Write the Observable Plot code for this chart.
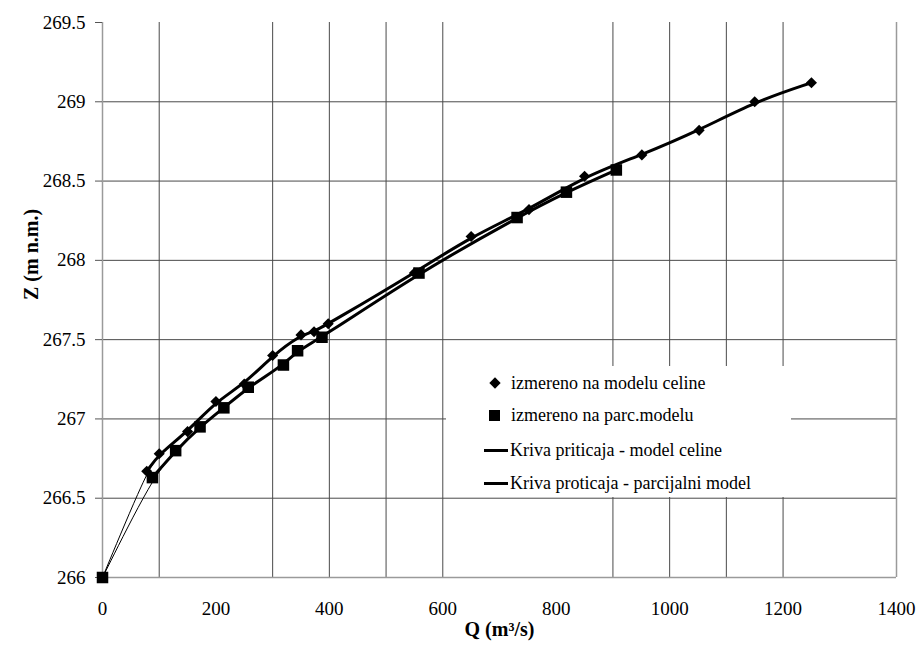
<!DOCTYPE html>
<html><head><meta charset="utf-8">
<script src="https://cdn.jsdelivr.net/npm/d3@7"></script>
<script src="https://cdn.jsdelivr.net/npm/@observablehq/plot@0.6"></script>
<style>
body{margin:0;background:#fff;}
#wrap{position:relative;width:919px;height:653px;font-family:"Liberation Serif","Times New Roman",Times,"DejaVu Serif",serif;}
#wrap svg, #wrap svg text{font-family:"Liberation Serif","Times New Roman",Times,"DejaVu Serif",serif;}
#legend{position:absolute;left:446px;top:366px;width:345px;height:131px;background:#fff;font-size:18px;color:#000;}
.row{position:absolute;left:0;height:24px;display:flex;align-items:center;white-space:nowrap;}
.sym{display:inline-block;background:#000;}
</style></head><body><div id="wrap"></div>
<script>
// measured on the whole-river model (diamonds)
const celineQ = [0, 78, 100, 150, 200, 250, 300, 350, 373, 398, 550, 650, 752, 850, 951, 1052, 1150, 1250];
const celineZ = [266, 266.67, 266.78, 266.92, 267.11, 267.22, 267.40, 267.53, 267.55, 267.60, 267.92, 268.15, 268.32, 268.53, 268.665, 268.82, 269.0, 269.12];
// measured on the partial model (squares)
const parcQ = [0, 88, 129, 172, 214, 257, 319, 344, 387, 558, 731, 818, 906];
const parcZ = [266, 266.63, 266.80, 266.95, 267.07, 267.20, 267.34, 267.43, 267.515, 267.92, 268.27, 268.43, 268.57];
const xTicks = [0, 200, 400, 600, 800, 1000, 1200, 1400];
const yTicks = [266, 266.5, 267, 267.5, 268, 268.5, 269, 269.5];
const gridX = [100, 300, 400, 500, 600, 900, 1000, 1100, 1200];
const gridY = [266.5, 267, 267.5, 268, 268.5, 269];
const legendLabels = ["izmereno na modelu celine", "izmereno na parc.modelu", "Kriva priticaja - model celine", "Kriva proticaja - parcijalni model"];

const celine = celineQ.map((q, i) => ({q, z: celineZ[i]}));
const parc = parcQ.map((q, i) => ({q, z: parcZ[i]}));
const font = "'Liberation Serif', 'Times New Roman', Times, 'DejaVu Serif', serif";
const fmt = d => String(d);

const chart = Plot.plot({
  width: 919, height: 653,
  marginLeft: 102, marginRight: 23, marginTop: 22, marginBottom: 76,
  style: {fontFamily: font, fontSize: "19px", color: "#000", background: "#fff"},
  x: {domain: [0, 1400], label: null},
  y: {domain: [266, 269.5], label: null},
  marks: [
    Plot.ruleX(gridX, {stroke: "#4a4a4a", strokeWidth: 1}),
    Plot.ruleY(gridY, {stroke: "#4a4a4a", strokeWidth: 1}),
    Plot.ruleY([266], {stroke: "#9a9a9a", strokeWidth: 1.5}),
    Plot.ruleX([0, 1400], {stroke: "#9a9a9a", strokeWidth: 1.5}),
    Plot.axisY({ticks: yTicks, tickFormat: fmt, tickSize: 7, tickPadding: 10, stroke: "#555", label: null, fontSize: 19}),
    Plot.axisX({ticks: xTicks, tickFormat: fmt, tickSize: 0, tickPadding: 24, label: null, fontSize: 19}),
    Plot.line(celine, {x: "q", y: "z", curve: "basis", stroke: "#000", strokeWidth: 1}),
    Plot.line(parc, {x: "q", y: "z", curve: "basis", stroke: "#000", strokeWidth: 1}),
    Plot.line(celine.slice(1), {x: "q", y: "z", curve: "basis", stroke: "#000", strokeWidth: 3}),
    Plot.line(parc.slice(1), {x: "q", y: "z", curve: "basis", stroke: "#000", strokeWidth: 3}),
    Plot.dot(parc, {x: "q", y: "z", symbol: "square", r: 6.5, fill: "#000", stroke: "none"}),
    Plot.dot(celine.slice(1), {x: "q", y: "z", symbol: "diamond2", r: 5, fill: "#000", stroke: "none"}),
    Plot.text(["Z (m n.m.)"], {frameAnchor: "left", dx: -71, rotate: -90, fontWeight: "bold", fontSize: 20, fill: "#000"}),
    Plot.text(["Q (m³/s)"], {frameAnchor: "bottom", dy: 58, fontWeight: "bold", fontSize: 20, fill: "#000"})
  ]
});
const wrap = document.getElementById("wrap");
wrap.appendChild(chart);

// legend
const lg = document.createElement("div");
lg.id = "legend";
const rowsTop = [5, 37, 72, 105];
legendLabels.forEach((lab, i) => {
  const r = document.createElement("div");
  r.className = "row";
  r.style.top = rowsTop[i] + "px";
  let sym;
  if (i === 0) sym = '<span class="sym" style="width:8px;height:8px;transform:rotate(45deg);margin-left:45px;margin-right:12px"></span>';
  else if (i === 1) sym = '<span class="sym" style="width:11px;height:11px;margin-left:43px;margin-right:11px"></span>';
  else sym = '<span class="sym" style="width:24px;height:3px;margin-left:38px;margin-right:2px"></span>';
  r.innerHTML = sym + "<span>" + lab + "</span>";
  lg.appendChild(r);
});
wrap.appendChild(lg);
</script></body></html>
